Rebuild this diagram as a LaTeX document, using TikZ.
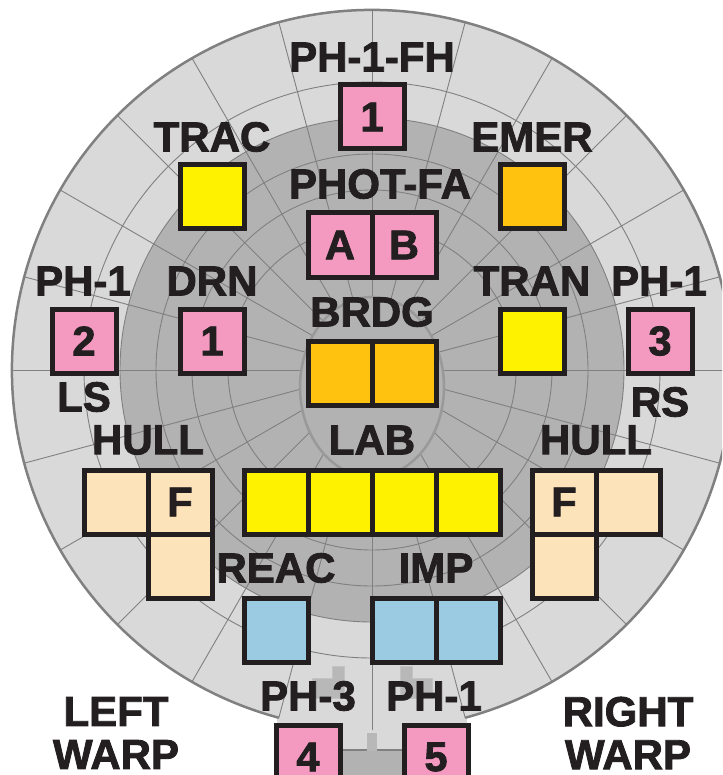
\documentclass[tikz,border=0pt]{standalone}
\usepackage{fontspec}
\setmainfont{Liberation Sans}[BoldFeatures={FakeBold=2}]
\usepackage{xcolor}
\usepackage{tikz}
\definecolor{ink}{HTML}{231F20}
\definecolor{rim}{HTML}{808080}
\definecolor{lightdeck}{HTML}{D9D9D9}
\definecolor{darkdeck}{HTML}{B2B2B2}
\definecolor{tabgray}{HTML}{B8B8B8}
\definecolor{pinkbox}{HTML}{F49AC1}
\definecolor{yellowbox}{HTML}{FFF200}
\definecolor{orangebox}{HTML}{FFC20E}
\definecolor{creambox}{HTML}{FDE3B9}
\definecolor{bluebox}{HTML}{9BCBE3}
\tikzset{
  slot/.style={shape=rectangle,draw=ink,line width=5pt,minimum size=64pt,inner sep=0pt,
    text=ink,font=\fontsize{41.5}{41.5}\bfseries\selectfont},
  lbl/.style={text=ink,inner sep=0pt,font=\fontsize{42}{43}\bfseries\selectfont},
  ring/.style={color=rim,line width=.9pt},
  spoke/.style={color=rim,line width=.9pt},
  tab/.style={fill=tabgray,draw=tabgray!85!white,line width=.8pt}
}

\begin{document}
\begin{tikzpicture}[x=1pt,y=-1pt]
    \clip (0,0) rectangle (722,775);
    \fill [white] (0,0) rectangle (722,775);

    %%%% deck
    \fill [lightdeck] (372,370) circle (360);
    \fill [lightdeck] (277,717) rectangle (467,750);
    \fill [darkdeck] (372,370) circle (252);
    \draw [ring] (372,370) circle (288);
    \draw [ring] (372,370) circle (252);
    \draw [ring] (372,370) circle (216);
    \draw [ring] (372,370) circle (180);
    \draw [ring] (372,370) circle (144);
    \foreach \a in {0,15,...,345} {
      \draw [spoke] (372,370) -- ++(\a:360);
    }
    \fill [lightdeck] (366,730) rectangle (378,733);
    \draw [color=rim,line width=2.5pt] (372,370) ++(105:360) arc (105:435:360);
    \draw [color=rim!80!white,line width=2.5pt,fill=darkdeck] (372,387) ellipse (72 and 90);

    %%%% engines
    \draw [tab] (332,666) -- (344,666) -- (344,698) -- (312,698) -- (312,678) -- (332,678) -- cycle;
    \draw [tab] (412,666) -- (400,666) -- (400,698) -- (432,698) -- (432,678) -- (412,678) -- cycle;
    \fill [darkdeck] (342,750) rectangle (403,775);
    \fill [tabgray] (367,733) rectangle (377,751);
    \draw [color=rim,line width=2pt] (342,750) -- (367,750);
    \draw [color=rim,line width=2pt] (377,750) -- (403,750);

    %%%% boxes
    \node (fh) at (372,117) [slot,fill=pinkbox] {1};
    \node (trac) at (212,197) [slot,fill=yellowbox] {};
    \node (emer) at (532,197) [slot,fill=orangebox] {};
    \node (phota) at (340,245) [slot,fill=pinkbox] {A};
    \node (photb) at (404,245) [slot,fill=pinkbox] {B};
    \node (ls) at (84,341) [slot,fill=pinkbox] {2};
    \node (drn) at (212,341) [slot,fill=pinkbox] {1};
    \node (tran) at (532,341) [slot,fill=yellowbox] {};
    \node (rs) at (660,341) [slot,fill=pinkbox] {3};
    \node (brdga) at (340,373) [slot,fill=orangebox] {};
    \node (brdgb) at (404,373) [slot,fill=orangebox] {};
    \node (lab1) at (276,502) [slot,fill=yellowbox] {};
    \node (lab2) at (340,502) [slot,fill=yellowbox] {};
    \node (lab3) at (404,502) [slot,fill=yellowbox] {};
    \node (lab4) at (468,502) [slot,fill=yellowbox] {};
    \node (hulla) at (116,502) [slot,fill=creambox] {};
    \node (hullb) at (180,502) [slot,fill=creambox] {F};
    \node (hullc) at (180,566) [slot,fill=creambox] {};
    \node (hulld) at (564,502) [slot,fill=creambox] {F};
    \node (hulle) at (628,502) [slot,fill=creambox] {};
    \node (hullf) at (564,566) [slot,fill=creambox] {};
    \node (reac) at (276,630) [slot,fill=bluebox] {};
    \node (impa) at (404,630) [slot,fill=bluebox] {};
    \node (impb) at (468,630) [slot,fill=bluebox] {};
    \node (ph4) at (308,757) [slot,fill=pinkbox] {4};
    \node (ph5) at (436,757) [slot,fill=pinkbox] {5};

    %%%% labels
    \node (tfh) at (372,57) [lbl] {PH-1-FH};
    \node (ttrac) at (212,137) [lbl] {TRAC};
    \node (temer) at (532,137) [lbl] {EMER};
    \node (tphot) at (380,184) [lbl] {PHOT-FA};
    \node (tls) at (83,281) [lbl] {PH-1};
    \node (tdrn) at (212,281) [lbl] {DRN};
    \node (ttran) at (532,281) [lbl] {TRAN};
    \node (trs) at (659,281) [lbl] {PH-1};
    \node (tbrdg) at (372,312) [lbl] {BRDG};
    \node (lsname) at (84,397) [lbl] {LS};
    \node (rsname) at (660,402) [lbl] {RS};
    \node (thulll) at (148,440) [lbl] {HULL};
    \node (tlab) at (372,440) [lbl] {LAB};
    \node (thullr) at (596,440) [lbl] {HULL};
    \node (treac) at (276,568) [lbl] {REAC};
    \node (timp) at (436,568) [lbl] {IMP};
    \node (tph3) at (308,696) [lbl] {PH-3};
    \node (tph1) at (434,696) [lbl] {PH-1};
    \node (lwarp) at (116,733) [lbl,align=center] {LEFT\\WARP};
    \node (rwarp) at (628,733) [lbl,align=center] {RIGHT\\WARP};
  \end{tikzpicture}
\end{document}
